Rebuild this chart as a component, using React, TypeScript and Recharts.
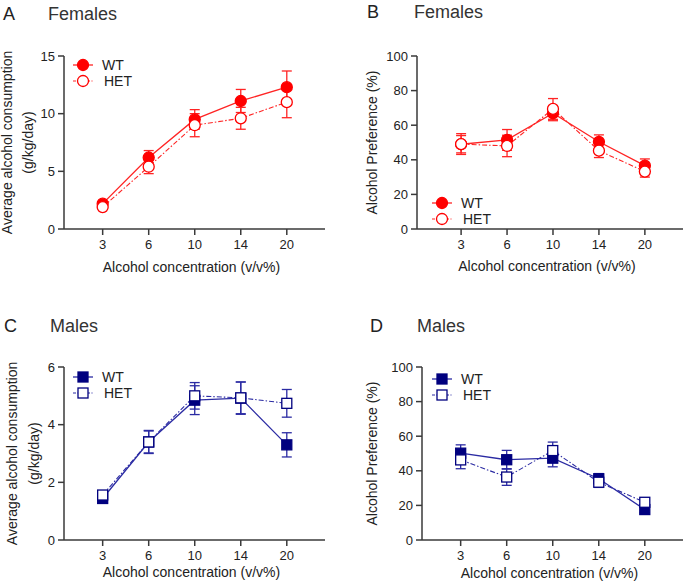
import React from 'react'
import { ErrorBar, Line, LineChart, XAxis, YAxis } from 'recharts'

// alcohol concentration (v/v%) categories
const concentrations = ['3', '6', '10', '14', '20']

// A: females, average consumption (g/kg/day)
const femConsWT = [2.2, 6.2, 9.5, 11.1, 12.3]
const femConsWTErr = [0.15, 0.6, 0.85, 1.0, 1.4]
const femConsHET = [1.9, 5.4, 9.0, 9.6, 11.0]
const femConsHETErr = [0.15, 0.6, 1.0, 0.95, 1.35]

// B: females, preference (%)
const femPrefWT = [49, 51.5, 66.9, 50.4, 36.6]
const femPrefWTErr = [5, 6, 4.3, 4, 3.9]
const femPrefHET = [49.1, 48, 69.4, 45.3, 33.2]
const femPrefHETErr = [6, 6.2, 6, 4, 3.2]

// C: males, average consumption (g/kg/day)
const maleConsWT = [1.44, 3.4, 4.85, 4.92, 3.3]
const maleConsWTErr = [0.12, 0.4, 0.5, 0.56, 0.42]
const maleConsHET = [1.56, 3.4, 5.0, 4.93, 4.74]
const maleConsHETErr = [0.15, 0.38, 0.46, 0.55, 0.48]

// D: males, preference (%)
const malePrefWT = [50.2, 46.4, 47.3, 35.4, 17.6]
const malePrefWTErr = [4.8, 5.4, 5.0, 3, 1.8]
const malePrefHET = [46.3, 36.4, 51.7, 33.4, 21.8]
const malePrefHETErr = [5.1, 4.8, 4.9, 3, 2]

const consTicksF = [0, 5, 10, 15]
const consTicksM = [0, 2, 4, 6]
const prefTicks = [0, 20, 40, 60, 80, 100]

const FONT = '"Liberation Sans", Arial, Helvetica, sans-serif'
const RED = '#ff0000'
const RED_LINE = '#ff2424'
const NAVY = '#00007f'
const BLUE_LINE = '#2b2ba3'
const AXIS = '#3a3a3a'
const TEXT = '#222'
const HET_DASH = '5 2 1.5 2'

type Shape = 'circle' | 'square'

function Marker({ cx, cy, shape, filled, color }: any) {
  const fill = filled ? color : '#fff'
  if (shape === 'circle') {
    return <circle cx={cx} cy={cy} r={5.5} fill={fill} stroke={color} strokeWidth={1.3} />
  }
  return <rect x={cx - 5} y={cy - 5} width={10} height={10} fill={fill} stroke={color} strokeWidth={1.3} />
}

function dotRenderer(shape: Shape, filled: boolean, color: string) {
  return (props: any) => {
    const { cx, cy, index } = props
    if (cx == null || cy == null) return <g key={`d${index}`} />
    return (
      <g key={`d${index}`}>
        <Marker cx={cx} cy={cy} shape={shape} filled={filled} color={color} />
      </g>
    )
  }
}

function Panel(p: any) {
  const rows = concentrations.map((c, i) => ({
    x: i + 1,
    wt: p.wt[i],
    wtErr: p.wtErr[i],
    het: p.het[i],
    hetErr: p.hetErr[i],
  }))
  const [pl, pr, pt, pb] = p.plot
  const margin = { left: pl - 40, right: p.width - pr, top: pt, bottom: p.height - pb - 30 }
  const tick = { fill: TEXT, fontSize: 13, fontFamily: FONT }
  const axisStyle = { stroke: AXIS, strokeWidth: 1.5 }
  const [lx, ly] = p.legend
  return (
    <div style={{ position: 'absolute', left: p.left, top: p.top, width: p.width, height: p.height }}>
      <LineChart width={p.width} height={p.height} data={rows} margin={margin}>
        <XAxis
          type="number"
          dataKey="x"
          domain={p.xDomain}
          ticks={[1, 2, 3, 4, 5]}
          allowDataOverflow
          tickFormatter={(v: number) => concentrations[v - 1]}
          height={30}
          tick={tick}
          tickSize={6}
          tickMargin={5}
          axisLine={axisStyle}
          tickLine={axisStyle}
        />
        <YAxis
          type="number"
          domain={p.yDomain}
          ticks={p.yTicks}
          allowDataOverflow
          width={40}
          tick={tick}
          tickSize={6}
          tickMargin={3}
          axisLine={axisStyle}
          tickLine={axisStyle}
        />
        <Line
          dataKey="wt"
          stroke={p.line}
          strokeWidth={1.3}
          dot={dotRenderer(p.shape, true, p.mark)}
          activeDot={false}
          isAnimationActive={false}
        >
          <ErrorBar dataKey="wtErr" width={5} stroke={p.line} strokeWidth={1.3} isAnimationActive={false} />
        </Line>
        <Line
          dataKey="het"
          stroke={p.line}
          strokeWidth={1.1}
          strokeDasharray={HET_DASH}
          dot={dotRenderer(p.shape, false, p.mark)}
          activeDot={false}
          isAnimationActive={false}
        >
          <ErrorBar dataKey="hetErr" width={5} stroke={p.line} strokeWidth={1.3} isAnimationActive={false} />
        </Line>
      </LineChart>
      <svg
        width={p.width}
        height={p.height}
        style={{ position: 'absolute', left: 0, top: 0, pointerEvents: 'none' }}
        fontFamily={FONT}
      >
        <text x={p.letterPos[0]} y={p.letterPos[1]} fontSize={18} fill="#222">{p.letter}</text>
        <text x={p.titlePos[0]} y={p.letterPos[1]} fontSize={18} fill="#333">{p.title}</text>
        {p.yLabel.map((s: string, i: number) => (
          <text
            key={s}
            transform={`translate(${p.yLabelX[i]}, ${(pt + pb) / 2}) rotate(-90)`}
            textAnchor="middle"
            fontSize={14}
            fill={TEXT}
          >
            {s}
          </text>
        ))}
        <text x={(pl + pr) / 2 - 3} y={p.xLabelY} textAnchor="middle" fontSize={14} fill={TEXT}>
          Alcohol concentration (v/v%)
        </text>
        {[0, 1].map((k) => (
          <g key={k}>
            <line
              x1={lx - 10}
              x2={lx + 10}
              y1={ly + k * 16}
              y2={ly + k * 16}
              stroke={p.line}
              strokeWidth={k ? 1.1 : 1.3}
              strokeDasharray={k ? '3 1.5 1 1.5' : undefined}
            />
            <Marker cx={lx} cy={ly + k * 16} shape={p.shape} filled={k === 0} color={p.mark} />
            <text x={lx + 19 + k * 2} y={ly + k * 16 + 5} fontSize={14} fill={TEXT}>
              {k ? 'HET' : 'WT'}
            </text>
          </g>
        ))}
      </svg>
    </div>
  )
}

export default function App() {
  return (
    <div style={{ position: 'absolute', left: 0, top: 0, width: 685, height: 587, background: '#fff' }}>
      <Panel
        left={0}
        top={0}
        width={340}
        height={290}
        plot={[64, 325, 56, 229]}
        xDomain={[0.16, 5.83]}
        yDomain={[0, 15]}
        yTicks={consTicksF}
        wt={femConsWT}
        wtErr={femConsWTErr}
        het={femConsHET}
        hetErr={femConsHETErr}
        shape="circle"
        mark={RED}
        line={RED_LINE}
        letter="A"
        title="Females"
        letterPos={[3, 20]}
        titlePos={[48]}
        yLabel={['Average alcohol consumption', '(g/kg/day)']}
        yLabelX={[12, 33]}
        xLabelY={272}
        legend={[83, 65]}
      />
      <Panel
        left={340}
        top={0}
        width={345}
        height={290}
        plot={[77, 343, 56, 229]}
        xDomain={[0.04, 5.83]}
        yDomain={[0, 100]}
        yTicks={prefTicks}
        wt={femPrefWT}
        wtErr={femPrefWTErr}
        het={femPrefHET}
        hetErr={femPrefHETErr}
        shape="circle"
        mark={RED}
        line={RED_LINE}
        letter="B"
        title="Females"
        letterPos={[27, 18]}
        titlePos={[74]}
        yLabel={['Alcohol Preference (%)']}
        yLabelX={[37]}
        xLabelY={271}
        legend={[102, 203]}
      />
      <Panel
        left={0}
        top={300}
        width={340}
        height={287}
        plot={[64, 325, 67, 240]}
        xDomain={[0.16, 5.83]}
        yDomain={[0, 6]}
        yTicks={consTicksM}
        wt={maleConsWT}
        wtErr={maleConsWTErr}
        het={maleConsHET}
        hetErr={maleConsHETErr}
        shape="square"
        mark={NAVY}
        line={BLUE_LINE}
        letter="C"
        title="Males"
        letterPos={[4, 32]}
        titlePos={[50]}
        yLabel={['Average alcohol consumption', '(g/kg/day)']}
        yLabelX={[17, 39]}
        xLabelY={277}
        legend={[83, 77]}
      />
      <Panel
        left={340}
        top={300}
        width={345}
        height={287}
        plot={[82, 343, 67, 240]}
        xDomain={[0.16, 5.83]}
        yDomain={[0, 100]}
        yTicks={prefTicks}
        wt={malePrefWT}
        wtErr={malePrefWTErr}
        het={malePrefHET}
        hetErr={malePrefHETErr}
        shape="square"
        mark={NAVY}
        line={BLUE_LINE}
        letter="D"
        title="Males"
        letterPos={[30, 32]}
        titlePos={[77]}
        yLabel={['Alcohol Preference (%)']}
        yLabelX={[37]}
        xLabelY={278}
        legend={[102, 79]}
      />
    </div>
  )
}
